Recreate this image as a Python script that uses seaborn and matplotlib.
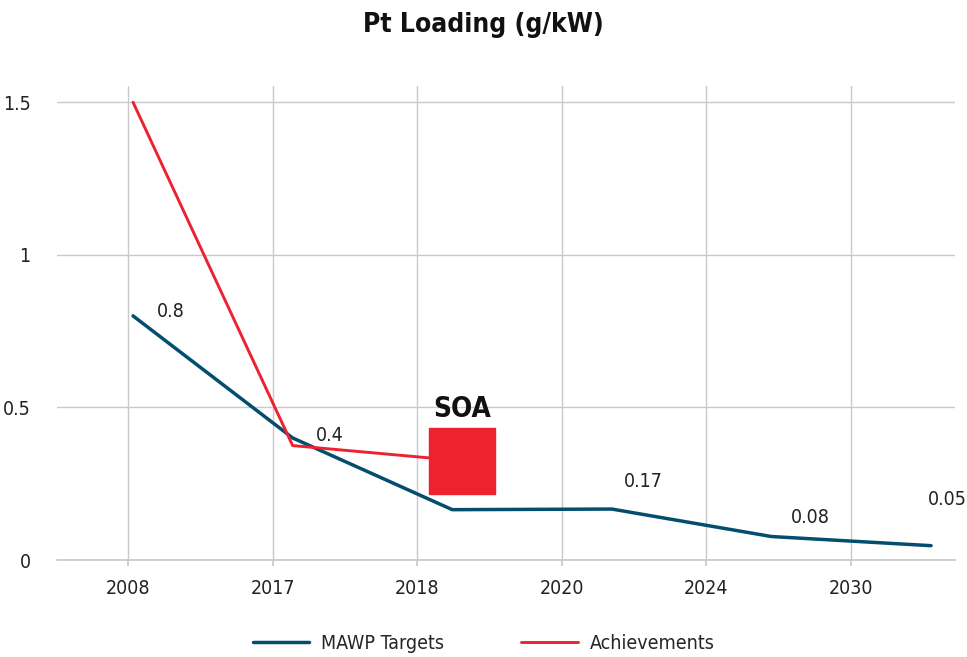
import matplotlib
matplotlib.use("Agg")
import matplotlib.pyplot as plt
import seaborn as sns
import pandas as pd

# Datos
years = ['2008', '2017', '2018', '2020', '2024', '2030']
mawp_targets = [0.8, 0.4, 0.165, 0.167, 0.077, 0.047]
mawp_labels = ['0.8', '0.4', '', '0.17', '0.08', '0.05']
achievements_x = [0, 1, 2.06]
achievements = [1.5, 0.375, 0.325]
soa_label = 'SOA'

# Desplazamiento de las etiquetas (en puntos)
label_offsets = [(27, 3), (27, 2), (0, 0), (23, 20), (28, 14), (12, 33)]

azul = '#034e6e'
rojo = '#ec2230'
gris = '#c9c9c9'

sns.set_theme(style='white')
plt.rcParams['font.family'] = ['DejaVu Sans']
plt.rcParams['font.stretch'] = 'condensed'

fig = plt.figure(figsize=(9.67, 6.57), dpi=100)
ax = fig.add_axes([0.059, 0.1476, 0.9286, 0.7214])

# Eje categórico (rejilla y etiquetas)
ax.set_xlim(-0.49, 5.72)
ax.set_ylim(0, 1.553)
ax.set_xticks(range(len(years)))
ax.set_xticklabels(years, fontsize=14, color='#222222')
ax.set_yticks([0, 0.5, 1, 1.5])
ax.set_yticklabels(['0', '0.5', '1', '1.5'], fontsize=14, color='#222222')
ax.grid(True, color=gris, linewidth=1)
for s in ['top', 'right', 'left']:
    ax.spines[s].set_visible(False)
ax.spines['bottom'].set_color(gris)
ax.tick_params(axis='x', length=4, color=gris, pad=10)
ax.tick_params(axis='y', length=0, pad=19)

# Eje para las series (desplazado respecto a las categorías)
ax2 = ax.twiny()
ax2.set_xlim(-0.476, 5.15)
ax2.set_axis_off()

df_mawp = pd.DataFrame({'x': range(len(mawp_targets)), 'valor': mawp_targets})
df_ach = pd.DataFrame({'x': achievements_x, 'valor': achievements})

sns.lineplot(data=df_mawp, x='x', y='valor', ax=ax2, color=azul, linewidth=2.5,
             label='MAWP Targets')
sns.lineplot(data=df_ach, x='x', y='valor', ax=ax2, color=rojo, linewidth=2.1,
             label='Achievements')
ax2.set_ylim(0, 1.553)

# Marcador SOA
ax2.plot(achievements_x[-1], achievements[-1], marker='s', markersize=47,
         color=rojo, linestyle='none')
ax2.annotate(soa_label, (achievements_x[-1], achievements[-1]), xytext=(0, 37),
             textcoords='offset points', ha='center', va='center',
             fontsize=20, fontweight='bold', color='#111111')

# Etiquetas de datos
for i, (v, lab) in enumerate(zip(mawp_targets, mawp_labels)):
    if lab:
        ax2.annotate(lab, (i, v), xytext=label_offsets[i], textcoords='offset points',
                     ha='center', va='center', fontsize=14, color='#222222')

# Leyenda
handles, labels = ax2.get_legend_handles_labels()
ax2.get_legend().remove()
fig.legend(handles, labels, loc='center', bbox_to_anchor=(0.5, 0.021), ncol=2,
           frameon=False, fontsize=14, handlelength=2.9, columnspacing=4.0,
           handletextpad=0.6)

fig.suptitle('Pt Loading (g/kW)', y=0.982, fontsize=19, fontweight='bold',
             color='#111111')

plt.savefig('out.png', dpi=100)
